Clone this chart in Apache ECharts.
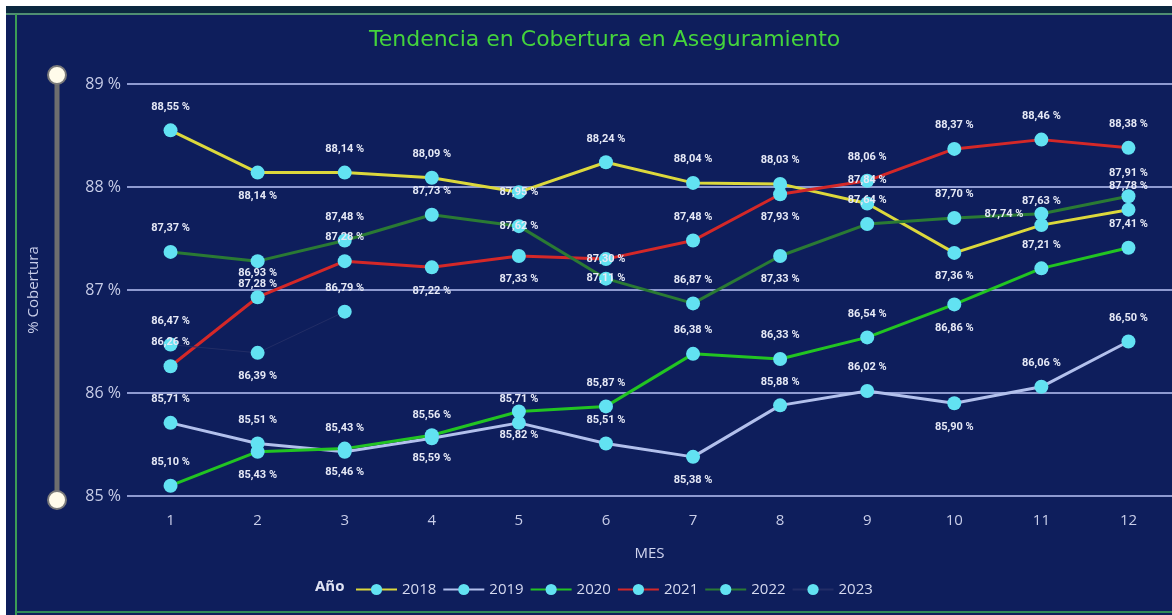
<!DOCTYPE html>
<html>
<head>
<meta charset="utf-8">
<title>Tendencia en Cobertura en Aseguramiento</title>
<script src="https://cdn.jsdelivr.net/npm/echarts@6/dist/echarts.min.js"></script>
<style>
  html, body { margin: 0; padding: 0; background: #ffffff; }
  #chart { width: 1172px; height: 615px; }
</style>
</head>
<body>
<div id="chart"></div>
<script>
  // datos
  var meses = ['1', '2', '3', '4', '5', '6', '7', '8', '9', '10', '11', '12'];
  var yTicks = [85, 86, 87, 88, 89];
  var anios = ['2018', '2019', '2020', '2021', '2022', '2023'];

  var v2018 = [88.55, 88.14, 88.14, 88.09, 87.95, 88.24, 88.04, 88.03, 87.84, 87.36, 87.63, 87.78];
  var v2019 = [85.71, 85.51, 85.43, 85.56, 85.71, 85.51, 85.38, 85.88, 86.02, 85.90, 86.06, 86.50];
  var v2020 = [85.10, 85.43, 85.46, 85.59, 85.82, 85.87, 86.38, 86.33, 86.54, 86.86, 87.21, 87.41];
  var v2021 = [86.26, 86.93, 87.28, 87.22, 87.33, 87.30, 87.48, 87.93, 88.06, 88.37, 88.46, 88.38];
  var v2022 = [87.37, 87.28, 87.48, 87.73, 87.62, 87.11, 86.87, 87.33, 87.64, 87.70, 87.74, 87.91];
  var v2023 = [86.47, 86.39, 86.79];

  // estilo de cada serie (colores y posicion de etiquetas)
  var colores = {
    '2018': '#dcd83c',
    '2019': '#b2c0ec',
    '2020': '#22c422',
    '2021': '#d42828',
    '2022': '#2a7a34',
    '2023': '#222d66'
  };
  var etiquetaAbajo = {
    '2018': [1, 9],
    '2019': [6, 9],
    '2020': [1, 2, 3, 4, 9],
    '2021': [3, 4, 7],
    '2022': [1, 7],
    '2023': [1]
  };
  var etiquetaIzq = { '2022': [10] };
  var etiquetaEncima = { '2018': [4], '2021': [5], '2022': [4, 5] };
  var valores = { '2018': v2018, '2019': v2019, '2020': v2020, '2021': v2021, '2022': v2022, '2023': v2023 };

  function fmt(v) {
    return v.toFixed(2).replace('.', ',') + ' %';
  }

  function enLista(obj, anio, i) {
    return (obj[anio] || []).indexOf(i) >= 0;
  }

  function buildData(anio) {
    return valores[anio].map(function (v, i) {
      var pos = 'top';
      if (enLista(etiquetaAbajo, anio, i)) pos = 'bottom';
      if (enLista(etiquetaIzq, anio, i)) pos = 'left';
      if (enLista(etiquetaEncima, anio, i)) pos = 'inside';
      return { value: v, label: { position: pos } };
    });
  }

  var series = anios.map(function (anio) {
    return {
      name: anio,
      type: 'line',
      data: buildData(anio),
      symbol: 'circle',
      symbolSize: 14,
      showAllSymbol: true,
      lineStyle: { color: colores[anio], width: anio === '2023' ? 1 : 3 },
      itemStyle: { color: '#62e2f2', borderWidth: 0 },
      label: {
        show: true,
        distance: 11,
        color: '#e6e9f6',
        fontFamily: 'Roboto',
        fontWeight: 'bold',
        fontSize: 11,
        formatter: function (p) { return fmt(p.value); }
      },
      emphasis: { disabled: true }
    };
  });

  var chart = echarts.init(document.getElementById('chart'));
  chart.setOption({
    backgroundColor: '#0e1e5c',
    animation: false,
    title: {
      text: 'Tendencia en Cobertura en Aseguramiento',
      left: 364,
      top: 24,
      textStyle: { color: '#44d43c', fontFamily: 'DejaVu Sans', fontWeight: 'normal', fontSize: 22 }
    },
    legend: {
      data: anios,
      left: 350,
      top: 577,
      itemWidth: 41,
      itemHeight: 14,
      itemGap: 6,
      textStyle: { color: '#d6daf0', fontFamily: 'Open Sans', fontSize: 15 }
    },
    grid: { left: 127, right: -11, top: 84, bottom: 119 },
    xAxis: {
      type: 'category',
      data: meses,
      boundaryGap: true,
      name: 'MES',
      nameLocation: 'middle',
      nameGap: 50,
      nameTextStyle: { color: '#d0d4ee', fontFamily: 'Open Sans', fontSize: 15 },
      axisLine: { show: false },
      axisTick: { show: false },
      axisLabel: { color: '#c8cde8', fontFamily: 'Open Sans', fontSize: 15, margin: 17 }
    },
    yAxis: {
      type: 'value',
      min: yTicks[0],
      max: yTicks[yTicks.length - 1],
      interval: 1,
      name: '% Cobertura',
      nameLocation: 'middle',
      nameRotate: 90,
      nameGap: 86,
      nameTextStyle: { color: '#c8cde8', fontFamily: 'Open Sans', fontSize: 15 },
      axisLabel: {
        color: '#c8cde8',
        fontFamily: 'Open Sans',
        fontSize: 16,
        margin: 6,
        formatter: function (v) { return v + ' %'; }
      },
      splitLine: { lineStyle: { color: '#8e9ad0', width: 2 } }
    },
    graphic: [
      { type: 'rect', shape: { x: 0, y: 0, width: 6, height: 615 }, style: { fill: '#ffffff' }, silent: true },
      { type: 'rect', shape: { x: 0, y: 0, width: 1172, height: 6 }, style: { fill: '#ffffff' }, silent: true },
      { type: 'rect', shape: { x: 6, y: 6, width: 1166, height: 8 }, style: { fill: '#0b2840' }, silent: true },
      { type: 'line', shape: { x1: 6, y1: 14, x2: 1172, y2: 14 }, style: { stroke: '#4f8f72', lineWidth: 2 }, silent: true },
      { type: 'line', shape: { x1: 16, y1: 14, x2: 16, y2: 615 }, style: { stroke: '#3c9c55', lineWidth: 2 }, silent: true },
      { type: 'line', shape: { x1: 16, y1: 612, x2: 1172, y2: 612 }, style: { stroke: '#2f8a5a', lineWidth: 2 }, silent: true },
      // control deslizante a la izquierda
      { type: 'line', shape: { x1: 57, y1: 75, x2: 57, y2: 500 }, style: { stroke: '#6e6e6e', lineWidth: 5 }, silent: true },
      { type: 'circle', shape: { cx: 57, cy: 75, r: 9 }, style: { fill: '#fffbea', stroke: '#7a7a7a', lineWidth: 2 }, silent: true },
      { type: 'circle', shape: { cx: 57, cy: 500, r: 9 }, style: { fill: '#fffbea', stroke: '#7a7a7a', lineWidth: 2 }, silent: true },
      {
        type: 'text', left: 315, top: 579,
        style: { text: 'Año', fill: '#e0e3f4', font: 'bold 15px "Open Sans"' },
        silent: true
      }
    ],
    series: series
  });
</script>
</body>
</html>
